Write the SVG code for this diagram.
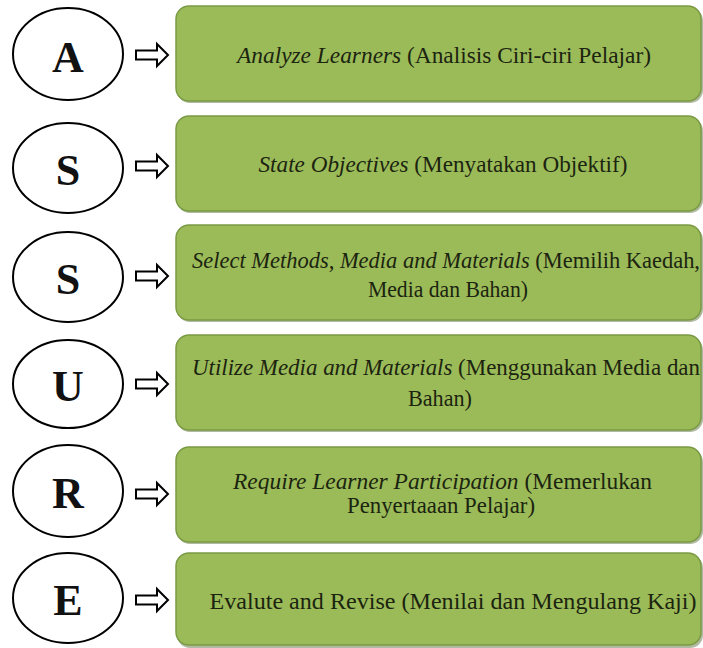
<svg xmlns="http://www.w3.org/2000/svg" width="703" height="648" viewBox="0 0 703 648">
<style>
.ell{fill:#fff;stroke:#000;stroke-width:2}
.let{font-family:"Liberation Serif","Times New Roman",serif;font-size:44px;font-weight:bold;fill:#111;text-anchor:middle}
.box{fill:#9bbb59;stroke:#7a9a44;stroke-width:1.5}
.shd{fill:#6f7f55;opacity:0.55}
.txt{font-family:"Liberation Serif","Times New Roman",serif;font-size:24px;fill:#1c2410;text-anchor:middle}
.sm{font-size:22.4px}
.sm2{font-size:22.2px}
.it{font-style:italic}
.arr{fill:#fff;stroke:#000;stroke-width:2;stroke-linejoin:miter}
</style>
<defs>
<path id="ar" d="M0,-4.5 H21 V-11 L32,0 L21,11 V4.5 H0 Z"/>
</defs>
<rect width="703" height="648" fill="#fff"/>

<g id="connectors">
<use href="#ar" class="arr" x="136" y="55"/>
<use href="#ar" class="arr" x="136" y="166"/>
<use href="#ar" class="arr" x="136" y="276"/>
<use href="#ar" class="arr" x="136" y="384"/>
<use href="#ar" class="arr" x="136" y="494"/>
<use href="#ar" class="arr" x="136" y="600"/>
</g>

<g id="circle-A"><ellipse class="ell" cx="68" cy="54" rx="55" ry="46"/><text class="let" x="68" y="72">A</text></g>
<g id="circle-S1"><ellipse class="ell" cx="68" cy="168" rx="55" ry="45"/><text class="let" x="68" y="185">S</text></g>
<g id="circle-S2"><ellipse class="ell" cx="68" cy="277" rx="55" ry="45"/><text class="let" x="68" y="294">S</text></g>
<g id="circle-U"><ellipse class="ell" cx="68" cy="384" rx="55" ry="44"/><text class="let" x="68" y="401">U</text></g>
<g id="circle-R"><ellipse class="ell" cx="68" cy="491" rx="55" ry="46"/><text class="let" x="68" y="508">R</text></g>
<g id="circle-E"><ellipse class="ell" cx="68" cy="598" rx="55" ry="45"/><text class="let" x="68" y="615">E</text></g>

<g id="box-1">
<rect class="shd" x="177" y="8" width="526" height="95" rx="13"/>
<rect class="box" x="176" y="6" width="525" height="95" rx="13"/>
<text class="txt" x="444" y="63" textLength="414" lengthAdjust="spacingAndGlyphs"><tspan class="it">Analyze Learners</tspan> (Analisis Ciri-ciri Pelajar)</text>
</g>
<g id="box-2">
<rect class="shd" x="177" y="118" width="526" height="95" rx="13"/>
<rect class="box" x="176" y="116" width="525" height="95" rx="13"/>
<text class="txt" x="443" y="172" textLength="369" lengthAdjust="spacingAndGlyphs"><tspan class="it">State Objectives</tspan> (Menyatakan Objektif)</text>
</g>
<g id="box-3">
<rect class="shd" x="177" y="227" width="526" height="95" rx="13"/>
<rect class="box" x="176" y="225" width="525" height="95" rx="13"/>
<text class="txt sm" x="446" y="268" textLength="508" lengthAdjust="spacingAndGlyphs"><tspan class="it">Select Methods, Media and Materials</tspan> (Memilih Kaedah,</text>
<text class="txt" x="448" y="297" textLength="160" lengthAdjust="spacingAndGlyphs">Media dan Bahan)</text>
</g>
<g id="box-4">
<rect class="shd" x="177" y="337" width="526" height="95" rx="13"/>
<rect class="box" x="176" y="335" width="525" height="95" rx="13"/>
<text class="txt sm2" x="446" y="375" textLength="508" lengthAdjust="spacingAndGlyphs"><tspan class="it">Utilize Media and Materials</tspan> (Menggunakan Media dan</text>
<text class="txt" x="440" y="406" textLength="64" lengthAdjust="spacingAndGlyphs">Bahan)</text>
</g>
<g id="box-5">
<rect class="shd" x="177" y="449" width="526" height="95" rx="13"/>
<rect class="box" x="176" y="447" width="525" height="95" rx="13"/>
<text class="txt" x="442.5" y="489" textLength="419" lengthAdjust="spacingAndGlyphs"><tspan class="it">Require Learner Participation</tspan> (Memerlukan</text>
<text class="txt" x="441" y="513" textLength="188" lengthAdjust="spacingAndGlyphs">Penyertaaan Pelajar)</text>
</g>
<g id="box-6">
<rect class="shd" x="177" y="555" width="526" height="93" rx="13"/>
<rect class="box" x="176" y="553" width="525" height="92" rx="13"/>
<text class="txt" x="453" y="609" textLength="487" lengthAdjust="spacingAndGlyphs">Evalute and Revise (Menilai dan Mengulang Kaji)</text>
</g>
</svg>
